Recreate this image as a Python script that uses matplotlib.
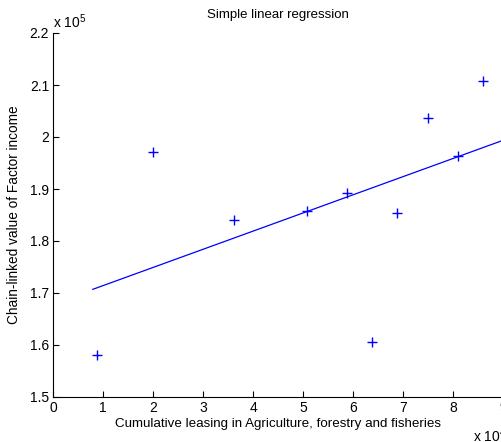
import matplotlib
matplotlib.use("Agg")
import matplotlib.pyplot as plt
import numpy as np

plt.rcParams['font.family'] = ['Liberation Sans', 'DejaVu Sans']

# Data (raw units)
leasing = [0.87e4, 2.00e4, 3.61e4, 5.07e4, 5.87e4, 6.37e4, 6.88e4, 7.50e4, 8.10e4, 8.60e4]
income = [1.581e5, 1.971e5, 1.840e5, 1.858e5, 1.893e5, 1.606e5, 1.854e5, 2.037e5, 1.963e5, 2.108e5]
fit_range = [0.79e4, 9.3e4]
x_ticks = [0, 1, 2, 3, 4, 5, 6, 7, 8, 9]
y_ticks = [1.5, 1.6, 1.7, 1.8, 1.9, 2.0, 2.1, 2.2]

W, H = 501, 442
fig = plt.figure(figsize=(W/100, H/100), dpi=100)
ax = fig.add_axes([53.3/W, (H-397)/H, 450/W, 364/H])

x = np.array(leasing)
y = np.array(income)
coef = np.polyfit(x, y, 1)
xf = np.array(fit_range)
ax.plot(x, y, '+', color='blue', markersize=7, markeredgewidth=1.0)
ax.plot(xf, np.polyval(coef, xf), '-', color='blue', linewidth=0.9)

ax.set_xlim(0, 9e4)
ax.set_ylim(1.5e5, 2.2e5)
ax.set_xticks([t*1e4 for t in x_ticks])
ax.set_xticklabels([f"{t:g}" for t in x_ticks])
ax.set_yticks([t*1e5 for t in y_ticks])
ax.set_yticklabels([f"{t:g}" for t in y_ticks])
ax.tick_params(direction='in', length=4, width=0.8, labelsize=10, pad=3, colors='black')
for s in ['top', 'right']:
    ax.spines[s].set_visible(False)
for s in ['left', 'bottom']:
    ax.spines[s].set_linewidth(0.8)

ax.set_title("Simple linear regression", fontsize=9.5, pad=11)
ax.set_xlabel("Cumulative leasing in Agriculture, forestry and fisheries", fontsize=9.6, labelpad=2)
ax.set_ylabel("Chain-linked value of Factor income", fontsize=9.8, labelpad=6)

fig.text(53/W, 1-22/H, r"x $\mathregular{10^{5}}$", fontsize=10, va='center', ha='left')
fig.text(473/W, 1-436/H, r"x $\mathregular{10^{4}}$", fontsize=10, va='center', ha='left')

fig.savefig("out.png", dpi=100)
